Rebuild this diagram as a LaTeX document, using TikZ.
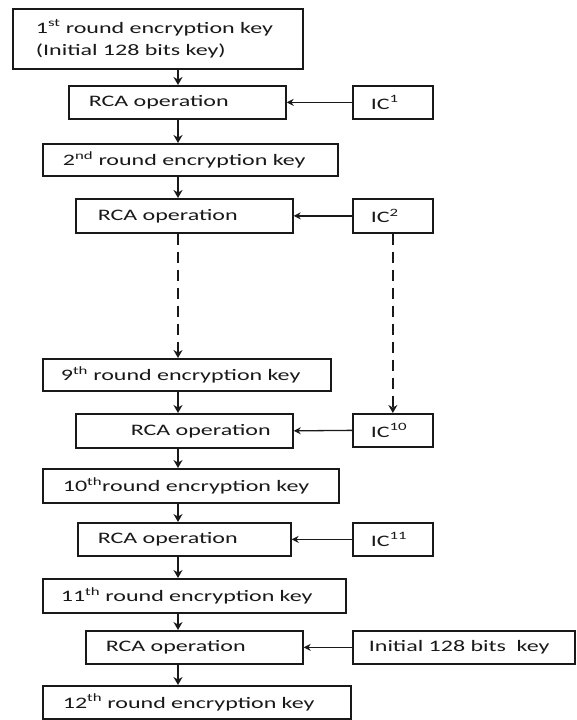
\documentclass[tikz,border=0pt]{standalone}
\usepackage{fontspec}
\setmainfont{Carlito}[FakeStretch=1.5]
\usetikzlibrary{arrows.meta}
\definecolor{ink}{gray}{0.1}
\tikzset{
  box/.style={draw=ink, text=ink, line width=1.7pt, anchor=north west,
              align=left, inner ysep=0pt, font=\fontsize{16}{22}\selectfont},
  flow/.style={draw=ink, line width=1.6pt, -{Stealth[length=8pt,width=9pt]}},
  feed/.style={draw=ink, line width=1.3pt, -{Stealth[length=7pt,width=7pt]}},
  skip/.style={flow, dash pattern=on 11pt off 7pt}
}

\begin{document}
\begin{tikzpicture}[x=1pt, y=-1pt]
\useasboundingbox[fill=white] (0,0) rectangle (576,720);
\coordinate (axis) at (178,0);

% round keys on the left
\node[box, minimum width=290pt, minimum height=60pt, inner xsep=23pt, text width=244pt] (k1) at (12,8)
  {1\textsuperscript{st} round encryption key\\(Initial 128 bits key)};
\node[box, minimum width=217pt, minimum height=33pt, inner xsep=20pt, text width=177pt] (r1) at (68,85) {RCA operation};
\node[box, minimum width=295pt, minimum height=32pt, inner xsep=20pt, text width=255pt] (k2) at (42,143)
  {2\textsuperscript{nd} round encryption key};
\node[box, minimum width=217pt, minimum height=34pt, inner xsep=22pt, text width=173pt] (r2) at (75,198) {RCA operation};
\node[box, minimum width=288pt, minimum height=32pt, inner xsep=18pt, text width=252pt] (k9) at (42,358)
  {9\textsuperscript{th} round encryption key};
\node[box, minimum width=217pt, minimum height=34pt, inner xsep=55pt, text width=107pt] (r3) at (75,413) {\mbox{RCA operation}};
\node[box, minimum width=296pt, minimum height=34pt, inner xsep=20pt, text width=256pt] (k10) at (42,468)
  {10\textsuperscript{th}round encryption key};
\node[box, minimum width=213pt, minimum height=33pt, inner xsep=20pt, text width=173pt] (r4) at (77,522) {RCA operation};
\node[box, minimum width=303pt, minimum height=34pt, inner xsep=18pt, text width=267pt] (k11) at (42,578)
  {11\textsuperscript{th} round encryption key};
\node[box, minimum width=217pt, minimum height=33pt, inner xsep=20pt, text width=177pt] (r5) at (85,630) {RCA operation};
\node[box, minimum width=308pt, minimum height=33pt, inner xsep=20pt, text width=268pt] (k12) at (42,685)
  {12\textsuperscript{th} round encryption key};

% constants on the right
\node[box, minimum width=80pt, minimum height=33pt, inner xsep=18pt, text width=44pt] (ic1) at (352,85) {IC\textsuperscript{1}};
\node[box, minimum width=80pt, minimum height=34pt, inner xsep=18pt, text width=44pt] (ic2) at (352,198) {IC\textsuperscript{2}};
\node[box, minimum width=80pt, minimum height=33pt, inner xsep=18pt, text width=44pt] (ic10) at (352,413) {IC\textsuperscript{10}};
\node[box, minimum width=80pt, minimum height=33pt, inner xsep=18pt, text width=44pt] (ic11) at (352,522) {IC\textsuperscript{11}};
\node[box, minimum width=222pt, minimum height=33pt, inner xsep=16pt, text width=190pt] (init) at (352,630) {Initial 128 bits\ \ key};

\foreach \a/\b in {k1/r1, r1/k2, k2/r2, k9/r3, r3/k10, k10/r4, r4/k11, k11/r5, r5/k12}
  \draw[flow] (\a.south -| axis) -- (\b.north -| axis);
\draw[skip] (r2.south -| axis) -- (k9.north -| axis);
\draw[skip, line width=1.3pt] (ic2.south) -- (ic10.north);
\foreach \a/\b in {ic1/r1, ic2/r2, ic10/r3, ic11/r4, init/r5}
  \draw[feed] (\a.west) -- (\b.east);
\end{tikzpicture}
\end{document}
